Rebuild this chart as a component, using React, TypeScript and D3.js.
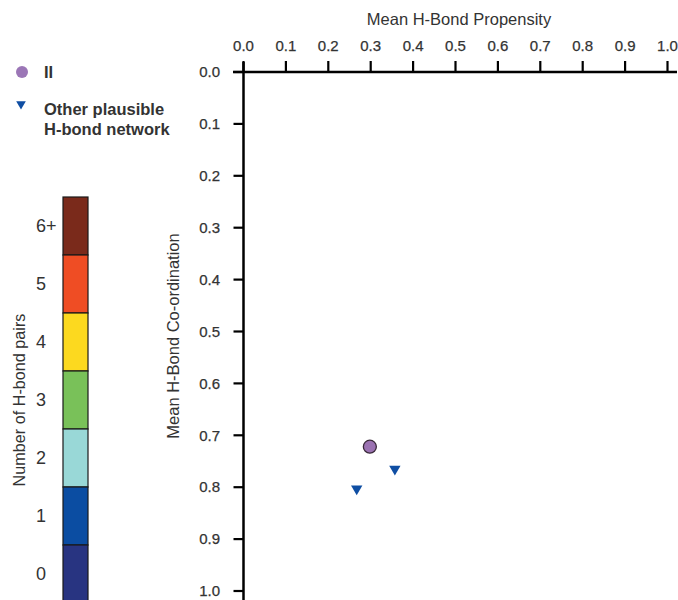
import React from "react";
import * as d3 from "d3";

const xTicks = [0, 0.1, 0.2, 0.3, 0.4, 0.5, 0.6, 0.7, 0.8, 0.9, 1.0];
const yTicks = [0, 0.1, 0.2, 0.3, 0.4, 0.5, 0.6, 0.7, 0.8, 0.9, 1.0];

const circlePoints = [{ x: 0.298, y: 0.722 }];
const trianglePoints = [
  { x: 0.267, y: 0.803 },
  { x: 0.357, y: 0.765 },
];

const bandLabels = ["6+", "5", "4", "3", "2", "1", "0"];
const bandColors = ["#7a2a1b", "#ef4d24", "#fcd91f", "#79c159", "#99d8d7", "#0b4da2", "#283481"];

const FONT = "Liberation Sans, Arial, sans-serif";
const TXT = "#333333";

export default function App() {
  const x = d3.scaleLinear().domain([0, 1]).range([243.5, 667.5]);
  const y = d3.scaleLinear().domain([0, 1]).range([72, 591]);
  const band = d3.scaleBand().domain(bandLabels).range([197, 603]).padding(0);
  const tri = d3.symbol().type(d3.symbolTriangle).size(56)();

  return (
    <svg width={678} height={600} style={{ position: "absolute", left: 0, top: 0 }} fontFamily={FONT}>
      <rect width={678} height={600} fill="#fff" />
      {/* Top axis title */}
      <text x={459} y={25} textAnchor="middle" fontSize={16.5} fill={TXT}>
        Mean H-Bond Propensity
      </text>
      {/* X axis */}
      <line x1={233} x2={677} y1={y(0)} y2={y(0)} stroke="#000" strokeWidth={2.5} />
      {xTicks.map((t) => (
        <g key={"x" + t}>
          <line x1={x(t)} x2={x(t)} y1={y(0) - 11} y2={y(0)} stroke="#000" strokeWidth={2.2} />
          <text x={x(t)} y={51} textAnchor="middle" fontSize={15} fill={TXT} stroke={TXT} strokeWidth={0.25}>
            {d3.format(".1f")(t)}
          </text>
        </g>
      ))}
      {/* Y axis */}
      <line x1={x(0)} x2={x(0)} y1={62} y2={600} stroke="#000" strokeWidth={2.5} />
      {yTicks.map((t) => (
        <g key={"y" + t}>
          <line x1={x(0) - 10} x2={x(0)} y1={y(t)} y2={y(t)} stroke="#000" strokeWidth={2.2} />
          <text x={220} y={y(t)} dy="0.35em" textAnchor="end" fontSize={15} fill={TXT} stroke={TXT} strokeWidth={0.25}>
            {d3.format(".1f")(t)}
          </text>
        </g>
      ))}
      <text
        transform={`translate(179,336) rotate(-90)`}
        textAnchor="middle"
        fontSize={16.5}
        fill={TXT}
      >
        Mean H-Bond Co-ordination
      </text>
      {/* Points */}
      {trianglePoints.map((p, i) => (
        <path
          key={"t" + i}
          d={tri}
          transform={`translate(${x(p.x)},${y(p.y)}) rotate(180)`}
          fill="#0f4ea3"
        />
      ))}
      {circlePoints.map((p, i) => (
        <circle key={"c" + i} cx={x(p.x)} cy={y(p.y)} r={6.5} fill="#9b72b2" stroke="#3a2a3a" strokeWidth={1.3} />
      ))}
      {/* Legend */}
      <circle cx={22} cy={72} r={6} fill="#9b76b6" />
      <text x={44} y={78} fontSize={16.5} fontWeight="bold" fill={TXT}>II</text>
      <path d={d3.symbol().type(d3.symbolTriangle).size(40)()} transform="translate(21,104) rotate(180)" fill="#0f4ea3" />
      <text x={44} y={115} fontSize={16.5} fontWeight="bold" fill={TXT}>Other plausible</text>
      <text x={44} y={135} fontSize={16.5} fontWeight="bold" fill={TXT}>H-bond network</text>
      {/* Colorbar */}
      {bandLabels.map((l, i) => (
        <g key={"b" + l}>
          <rect x={63} y={band(l)!} width={25} height={band.bandwidth()} fill={bandColors[i]} stroke="#1a1a1a" strokeWidth={1.2} />
          <text x={36} y={band(l)! + band.bandwidth() / 2} dy="0.35em" fontSize={18} fill={TXT}>
            {l}
          </text>
        </g>
      ))}
      <text transform="translate(25,400) rotate(-90)" textAnchor="middle" fontSize={16.2} fill={TXT}>
        Number of H-bond pairs
      </text>
    </svg>
  );
}
